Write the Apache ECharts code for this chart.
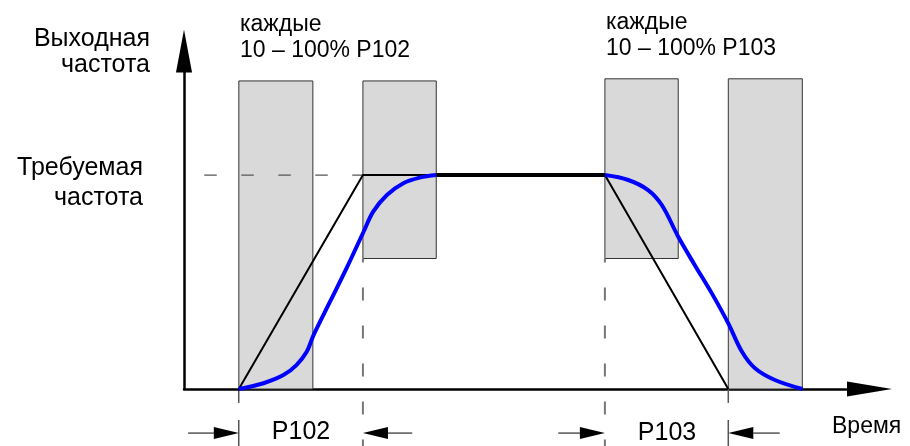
<!DOCTYPE html>
<html>
<head>
<meta charset="utf-8">
<script src="https://cdn.jsdelivr.net/npm/echarts@6/dist/echarts.min.js"></script>
<style>
html,body{margin:0;padding:0;background:#fff;}
#chart{width:910px;height:446px;}
</style>
</head>
<body>
<div id="chart"></div>
<script>
// ---- data (time in arbitrary units 0..100, frequency in % of required) ----
const rectStart = [8.0, 26.1, 61.4, 79.4];
const rectEnd   = [18.8, 36.8, 72.1, 90.2];
const rectLow   = [0, 61, 61, 0];
const rectHigh  = [144, 144, 145, 145];

const setpointTime  = [8.0, 26.1, 61.4, 79.4];
const setpointValue = [0, 100, 100, 0];

const plateauTime  = [36.8, 61.4];
const plateauValue = [100, 100];

const accelTime  = [8.0, 11.6, 14.5, 16.4, 17.9, 18.9, 21.3, 23.7, 26.2, 27.6, 29.6, 32.0, 34.4, 36.8];
const accelValue = [0, 2.7, 6.5, 11.2, 17.4, 25.2, 40.8, 56.4, 73.5, 82.9, 90.7, 96.2, 98.8, 100];

const decelTime  = [61.4, 64.8, 67.7, 69.7, 72.1, 74.5, 77.0, 79.4, 81.4, 83.3, 86.2, 90.2];
const decelValue = [100, 97.7, 93.0, 86.0, 71.2, 58.0, 44.7, 30.7, 17.4, 9.7, 4.2, 0];

const requiredLevel = 100;
const dashHTime = [-1.2, 26.1];
const dashV1Time = [26.1, 26.1];
const dashV2Time = [61.4, 61.4];
const dashVValue = [61, -27];

const extTimes = [8.0, 79.4];
const extUpper = [0, -6.5];
const extLower = [-14.5, -27];

// dimension arrows: [tip, tail, level]
const arrowTip  = [8.0, 26.1, 61.4, 79.4];
const arrowTail = [0.6, 33.3, 54.6, 86.9];
const arrowLevel = -20.6;

const yTitle1 = 'Выходная';
const yTitle2 = 'частота';
const reqTitle1 = 'Требуемая';
const reqTitle2 = 'частота';
const noteA1 = 'каждые';
const noteA2 = '10 – 100% P102';
const noteB1 = 'каждые';
const noteB2 = '10 – 100% P103';
const dimA = 'P102';
const dimB = 'P103';
const xTitle = 'Время';

// ---- build ----
const FONT = '"Liberation Sans", Arial, sans-serif';
const zip = (a, b) => a.map((v, i) => [v, b[i]]);

const rectData = rectStart.map((s, i) => [s, rectEnd[i], rectLow[i], rectHigh[i]]);
const arrowData = arrowTip.map((t, i) => [t, arrowTail[i], arrowLevel]);

function lineSeries(data, style, z) {
  return {
    type: 'line', data: data, symbol: 'none', silent: true, clip: false,
    animation: false, z: z || 3, lineStyle: style
  };
}

const chart = echarts.init(document.getElementById('chart'), null, {renderer: 'canvas'});

const option = {
  animation: false,
  backgroundColor: '#fff',
  grid: {left: 184, top: 51, right: 40.5, bottom: 57, containLabel: false},
  xAxis: {
    type: 'value', min: 0, max: 100,
    axisLine: {show: true, onZero: true, lineStyle: {color: '#000', width: 2.5},
      symbol: ['none', 'triangle'], symbolSize: [15, 45]},
    axisTick: {show: false}, axisLabel: {show: false}, splitLine: {show: false}
  },
  yAxis: {
    type: 'value', min: 0, max: 158,
    axisLine: {show: true, lineStyle: {color: '#000', width: 2.5},
      symbol: ['none', 'triangle'], symbolSize: [16, 43]},
    axisTick: {show: false}, axisLabel: {show: false}, splitLine: {show: false}
  },
  series: [
    {
      type: 'custom', z: 1, silent: true, data: rectData,
      encode: {x: [0, 1], y: [2, 3]},
      renderItem: function (params, api) {
        const p0 = api.coord([api.value(0), api.value(3)]);
        const p1 = api.coord([api.value(1), api.value(2)]);
        return {
          type: 'rect', z2: 0,
          shape: {x: p0[0], y: p0[1], width: p1[0] - p0[0], height: p1[1] - p0[1]},
          style: {fill: '#d9d9d9', stroke: '#333', lineWidth: 1}
        };
      }
    },
    lineSeries(zip(dashHTime, [requiredLevel, requiredLevel]),
      {color: '#555', width: 1.2, type: [12.5, 24.5], dashOffset: 8.5}, 2),
    lineSeries(zip(dashV1Time, dashVValue),
      {color: '#777', width: 2, type: [13, 25], dashOffset: 9}, 2),
    lineSeries(zip(dashV2Time, dashVValue),
      {color: '#777', width: 2, type: [13, 25], dashOffset: 9}, 2),
    lineSeries(zip([extTimes[0], extTimes[0]], extUpper), {color: '#000', width: 1}, 2),
    lineSeries(zip([extTimes[0], extTimes[0]], extLower), {color: '#000', width: 1}, 2),
    lineSeries(zip([extTimes[1], extTimes[1]], extUpper), {color: '#555', width: 1.5}, 2),
    lineSeries(zip([extTimes[1], extTimes[1]], extLower), {color: '#555', width: 1.5}, 2),
    lineSeries(zip(setpointTime, setpointValue), {color: '#000', width: 2}, 3),
    lineSeries(zip(plateauTime, plateauValue), {color: '#000', width: 4}, 3),
    Object.assign(lineSeries(zip(accelTime, accelValue), {color: '#0000ff', width: 4}, 4),
      {smooth: 0.35}),
    Object.assign(lineSeries(zip(decelTime, decelValue), {color: '#0000ff', width: 4}, 4),
      {smooth: 0.35}),
    {
      type: 'custom', z: 5, silent: true, data: arrowData,
      encode: {x: [0, 1], y: 2},
      renderItem: function (params, api) {
        const tip = api.coord([api.value(0), api.value(2)]);
        const tail = api.coord([api.value(1), api.value(2)]);
        const dir = Math.sign(tail[0] - tip[0]);
        const headLen = 25, headHalf = 6;
        return {
          type: 'group',
          children: [
            {type: 'line', shape: {x1: tail[0], y1: tail[1], x2: tip[0] + dir * headLen, y2: tip[1]},
              style: {stroke: '#000', lineWidth: 1}},
            {type: 'polygon', shape: {points: [[tip[0], tip[1]],
              [tip[0] + dir * headLen, tip[1] - headHalf],
              [tip[0] + dir * headLen, tip[1] + headHalf]]},
              style: {fill: '#000'}}
          ]
        };
      }
    }
  ],
  graphic: [
    {type: 'text', x: 150, y: 39, style: {text: yTitle1, font: '25px ' + FONT, fill: '#000', align: 'right', verticalAlign: 'middle'}},
    {type: 'text', x: 150, y: 65, style: {text: yTitle2, font: '25px ' + FONT, fill: '#000', align: 'right', verticalAlign: 'middle'}},
    {type: 'text', x: 143, y: 168, style: {text: reqTitle1, font: '25px ' + FONT, fill: '#000', align: 'right', verticalAlign: 'middle'}},
    {type: 'text', x: 143, y: 198, style: {text: reqTitle2, font: '25px ' + FONT, fill: '#000', align: 'right', verticalAlign: 'middle'}},
    {type: 'text', x: 240, y: 25, style: {text: noteA1, font: '23px ' + FONT, fill: '#000', align: 'left', verticalAlign: 'middle'}},
    {type: 'text', x: 240, y: 51, style: {text: noteA2, font: '23px ' + FONT, fill: '#000', align: 'left', verticalAlign: 'middle'}},
    {type: 'text', x: 606, y: 23, style: {text: noteB1, font: '23px ' + FONT, fill: '#000', align: 'left', verticalAlign: 'middle'}},
    {type: 'text', x: 606, y: 49, style: {text: noteB2, font: '23px ' + FONT, fill: '#000', align: 'left', verticalAlign: 'middle'}},
    {type: 'text', x: 301, y: 432, style: {text: dimA, font: '25px ' + FONT, fill: '#000', align: 'center', verticalAlign: 'middle'}},
    {type: 'text', x: 667, y: 433, style: {text: dimB, font: '25px ' + FONT, fill: '#000', align: 'center', verticalAlign: 'middle'}},
    {type: 'text', x: 832, y: 427, style: {text: xTitle, font: '23px ' + FONT, fill: '#000', align: 'left', verticalAlign: 'middle'}}
  ]
};
chart.setOption(option);
</script>
</body>
</html>
